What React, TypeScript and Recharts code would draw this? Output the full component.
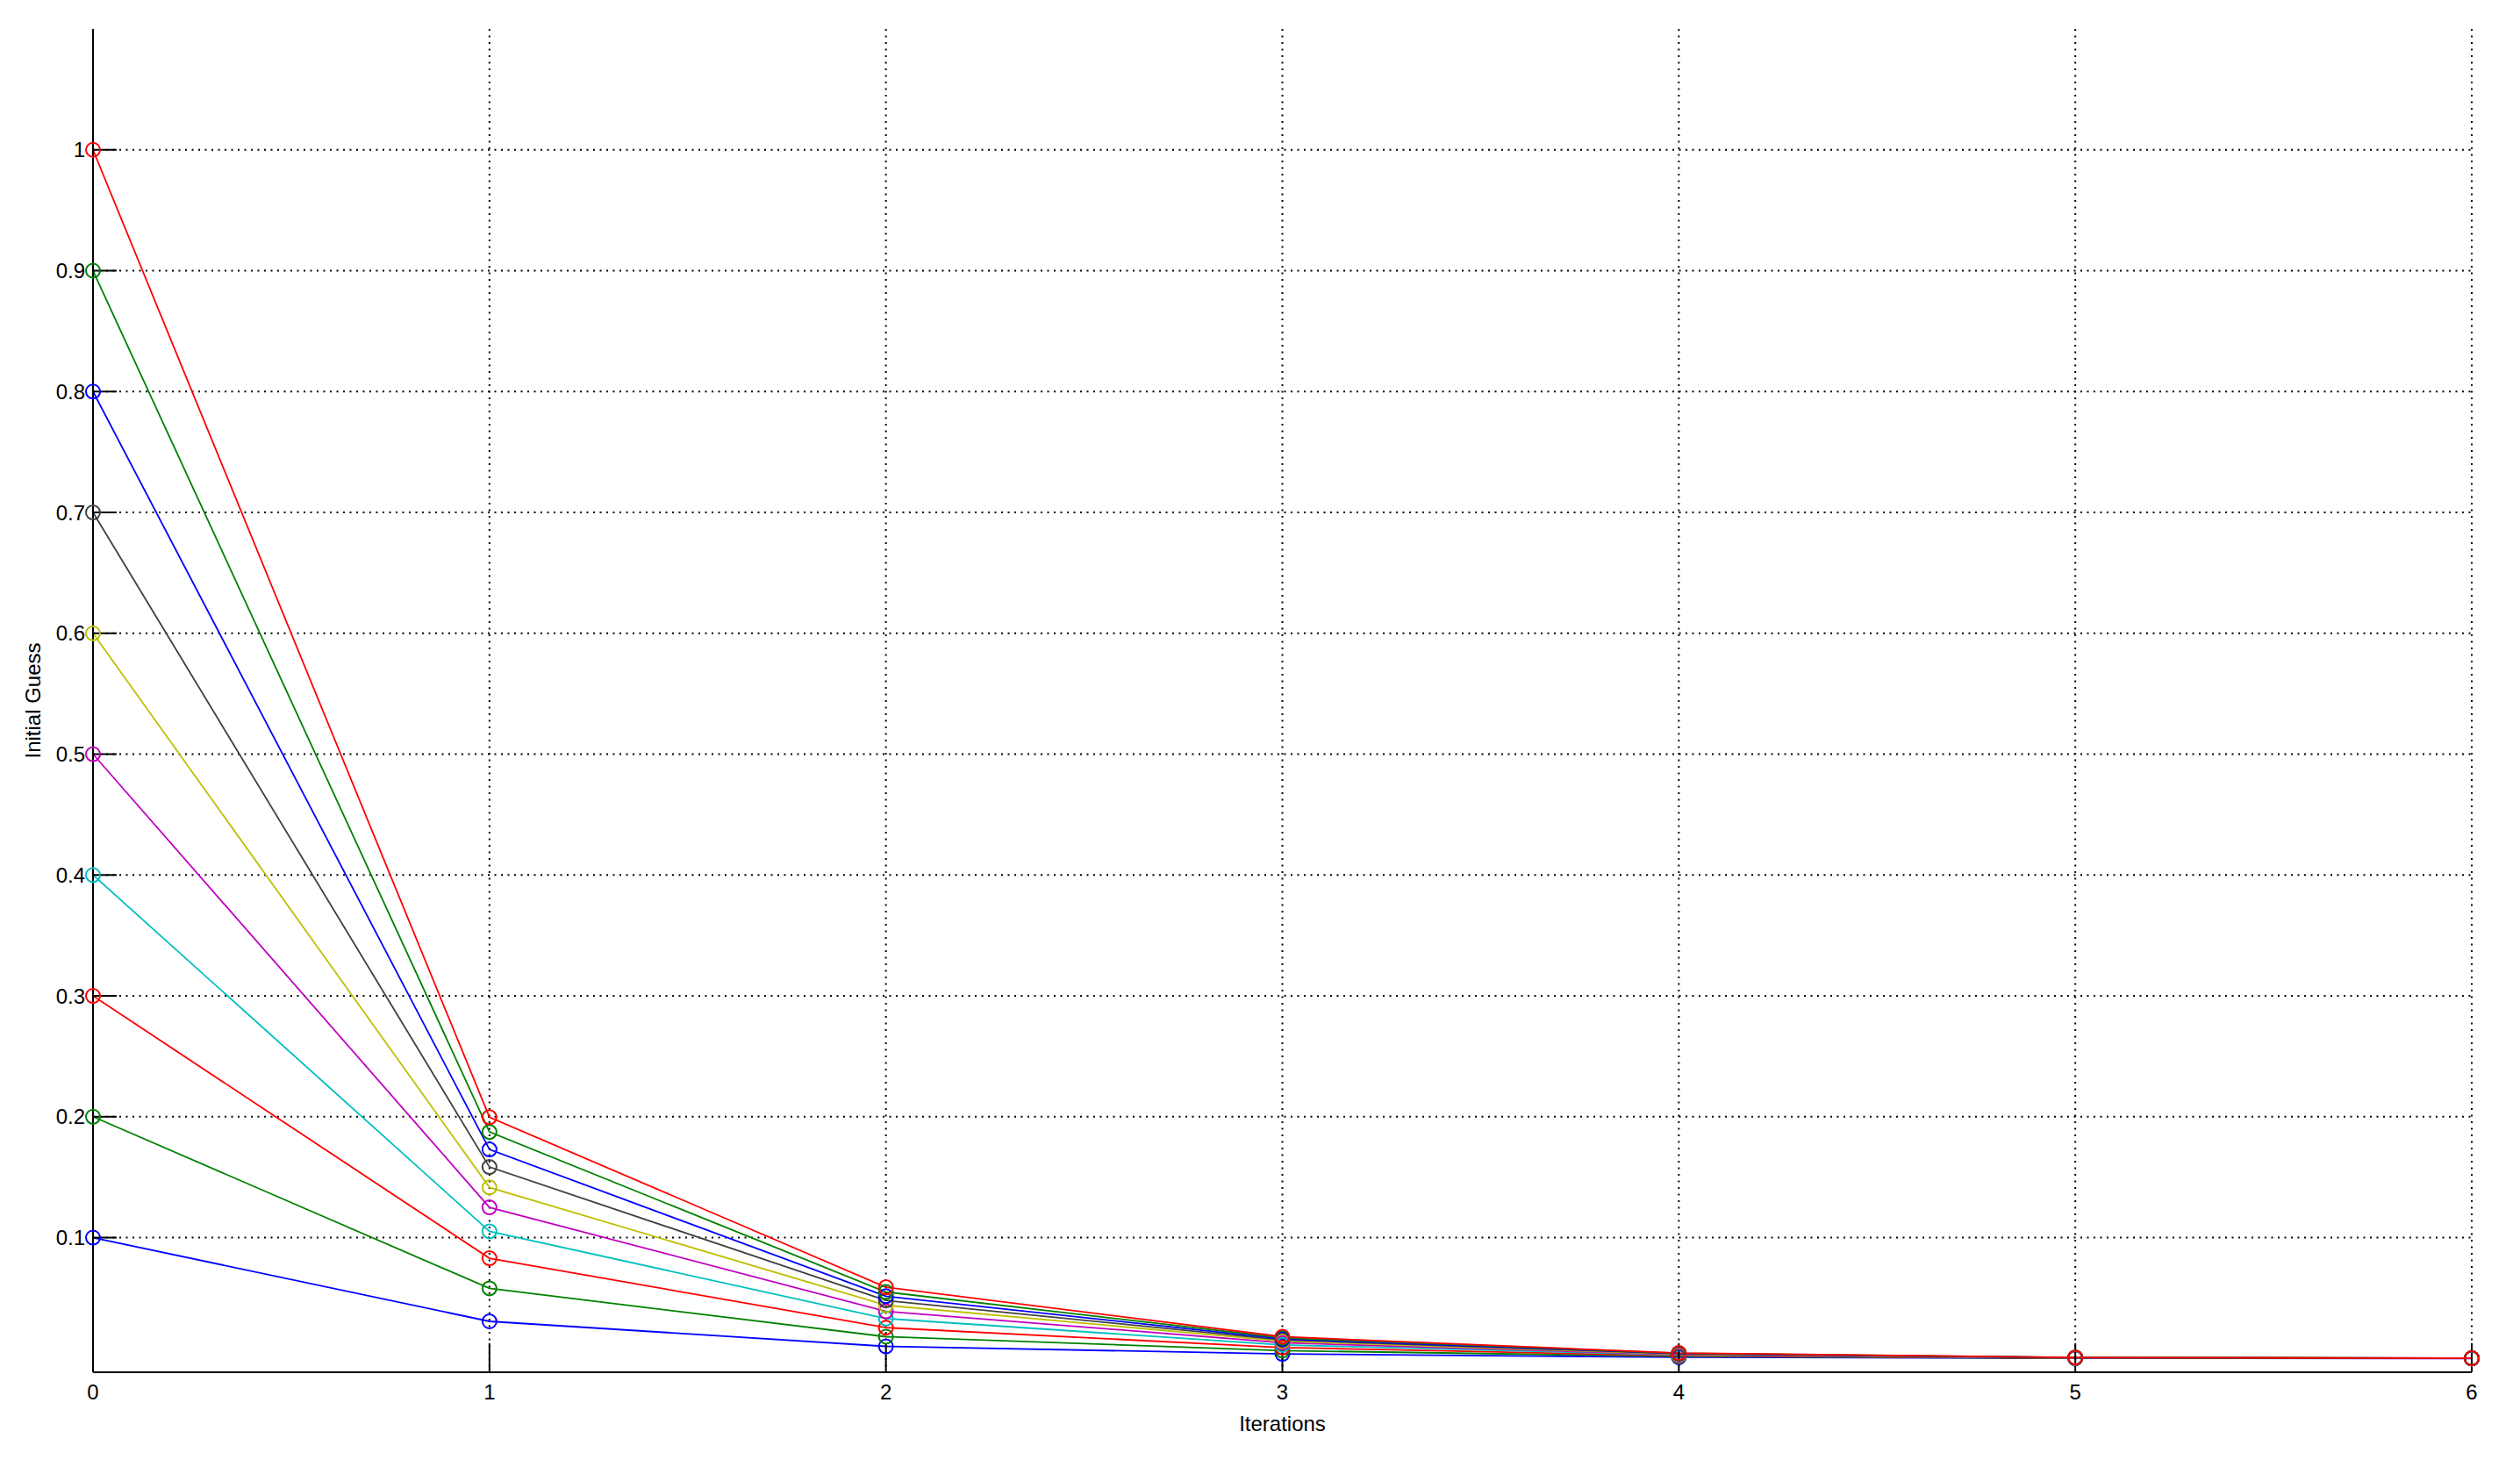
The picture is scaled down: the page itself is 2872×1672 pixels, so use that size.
import React from 'react';
import { LineChart, Line, XAxis, YAxis, CartesianGrid } from 'recharts';

const iterations = [0, 1, 2, 3, 4, 5, 6];
const guess01 = [0.1, 0.0307, 0.0100, 0.0038, 0.0010, 0.0002, 0.0000];
const guess02 = [0.2, 0.0580, 0.0180, 0.0065, 0.0017, 0.0003, 0.0001];
const guess03 = [0.3, 0.0829, 0.0255, 0.0090, 0.0023, 0.0004, 0.0001];
const guess04 = [0.4, 0.1052, 0.0330, 0.0112, 0.0029, 0.0005, 0.0001];
const guess05 = [0.5, 0.1250, 0.0390, 0.0130, 0.0033, 0.0006, 0.0001];
const guess06 = [0.6, 0.1415, 0.0440, 0.0143, 0.0036, 0.0006, 0.0001];
const guess07 = [0.7, 0.1584, 0.0480, 0.0153, 0.0039, 0.0007, 0.0002];
const guess08 = [0.8, 0.1729, 0.0515, 0.0162, 0.0041, 0.0007, 0.0002];
const guess09 = [0.9, 0.1874, 0.0550, 0.0171, 0.0043, 0.0008, 0.0002];
const guess10 = [1.0, 0.1996, 0.0590, 0.0180, 0.0045, 0.0008, 0.0002];

const seriesKeys = ['g01', 'g02', 'g03', 'g04', 'g05', 'g06', 'g07', 'g08', 'g09', 'g10'];
const seriesValues = [guess01, guess02, guess03, guess04, guess05, guess06, guess07, guess08, guess09, guess10];
const seriesColors = ['#0000FF', '#008000', '#FF0000', '#00BFBF', '#BF00BF', '#BFBF00', '#404040', '#0000FF', '#008000', '#FF0000'];

const yTicks = [0.1, 0.2, 0.3, 0.4, 0.5, 0.6, 0.7, 0.8, 0.9, 1];
const xTicks = [0, 1, 2, 3, 4, 5, 6];

const data = iterations.map((it, i) => {
  const row: Record<string, number> = { it };
  seriesKeys.forEach((k, s) => {
    row[k] = seriesValues[s][i];
  });
  return row;
});

const font = 'Liberation Sans, Arial, sans-serif';

export default function App() {
  return (
    <LineChart
      width={2856}
      height={1656}
      data={data}
      margin={{ top: 25, right: 47, bottom: 0, left: 0 }}
      style={{ fontFamily: font }}
    >
      <CartesianGrid stroke="#000" strokeDasharray="2 5.5" strokeWidth={2} syncWithTicks />
      <XAxis
        dataKey="it"
        type="number"
        domain={[0, 6]}
        ticks={xTicks}
        height={100}
        stroke="#000"
        strokeWidth={2}
        tickSize={-33}
        tickMargin={47}
        tickLine={{ stroke: '#000', strokeWidth: 2 }}
        tick={{ fill: '#000', fontSize: 24, fontFamily: font }}
        label={{ value: 'Iterations', position: 'insideBottom', offset: 33, style: { fill: '#000', fontSize: 24, fontFamily: font } }}
      />
      <YAxis
        type="number"
        domain={[-0.0114, 1.1]}
        ticks={yTicks}
        width={98}
        stroke="#000"
        strokeWidth={2}
        tickSize={-27}
        tickMargin={36}
        tickLine={{ stroke: '#000', strokeWidth: 2 }}
        tick={{ fill: '#000', fontSize: 24, fontFamily: font }}
        allowDataOverflow
        label={{ value: 'Initial Guess', angle: -90, position: 'insideLeft', offset: 29, style: { fill: '#000', fontSize: 24, fontFamily: font, textAnchor: 'middle' } }}
      />
      {seriesKeys.map((k, s) => (
        <Line
          key={k}
          dataKey={k}
          type="linear"
          stroke={seriesColors[s]}
          strokeWidth={1.8}
          isAnimationActive={false}
          dot={{ r: 8, fill: 'none', stroke: seriesColors[s], strokeWidth: 2 }}
          activeDot={false}
        />
      ))}
    </LineChart>
  );
}
